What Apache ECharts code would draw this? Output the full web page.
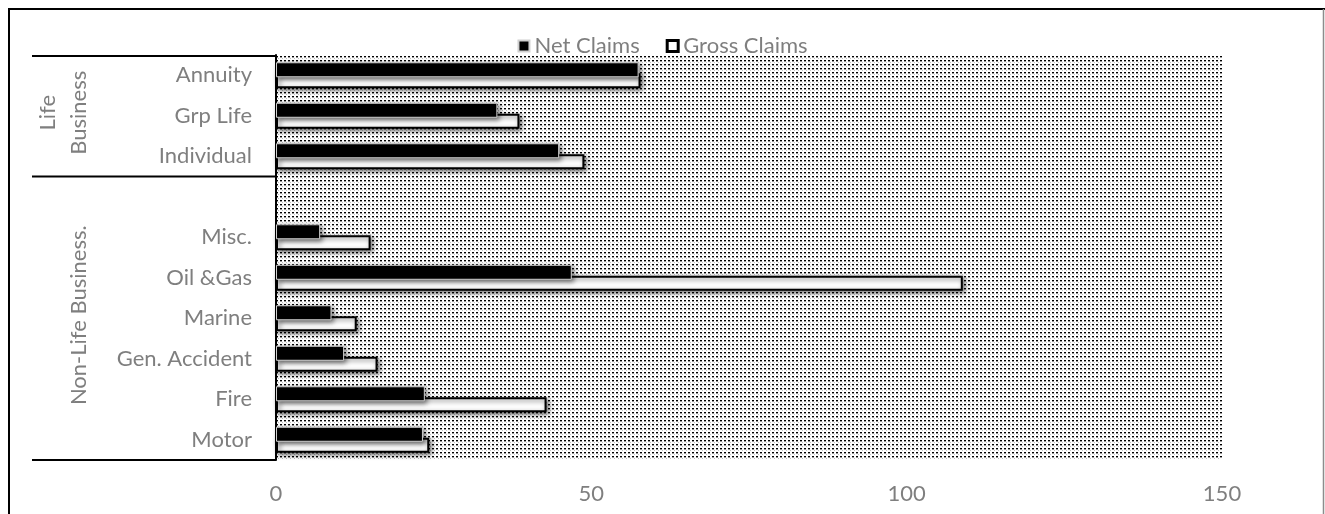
<!DOCTYPE html>
<html>
<head>
<meta charset="utf-8">
<script src="https://cdn.jsdelivr.net/npm/echarts@6/dist/echarts.min.js"></script>
<style>
  html, body { margin: 0; padding: 0; background: #fff; }
  #chart { width: 1325px; height: 514px; }
</style>
</head>
<body>
<div id="chart"></div>
<script>
// Claims by line of business (bottom to top); the blank row separates the two groups
const categories = ['Motor', 'Fire', 'Gen. Accident', 'Marine', 'Oil &Gas', 'Misc.', '', 'Individual', 'Grp Life', 'Annuity'];
const netClaims = [23.3, 23.6, 10.8, 8.8, 46.9, 7.0, null, 44.9, 35.1, 57.5];
const grossClaims = [24.3, 42.9, 16.1, 12.8, 108.9, 15.0, null, 48.9, 38.6, 57.8];
const seriesNames = ['Net Claims', 'Gross Claims'];
const xTicks = [0, 50, 100, 150];

// Group captions on the left, with the category index range each one covers
const groupNames = ['Life\nBusiness', 'Non-Life Business.'];
const groupStart = [7, 0];
const groupEnd = [9, 6];

const FONT = 'Lato, "Open Sans", sans-serif';
const GREY = '#7f7f7f';
const FS = 22;

// Dotted fill used for the plotting area
function dotPattern() {
  const c = document.createElement('canvas');
  c.width = 4; c.height = 4;
  const g = c.getContext('2d');
  g.fillStyle = '#ffffff';
  g.fillRect(0, 0, 4, 4);
  g.fillStyle = '#000000';
  g.fillRect(0, 0, 2, 1);
  g.fillStyle = '#9a9a9a';
  g.fillRect(0, 1, 2, 1);
  g.fillStyle = '#c0c0c0';
  g.fillRect(2, 2, 1, 1);
  return c;
}

const GRID = { left: 276, right: 103, top: 55, bottom: 54 };

const chart = echarts.init(document.getElementById('chart'), null, { renderer: 'canvas' });

const barShadow = {
  shadowBlur: 5,
  shadowColor: 'rgba(0,0,0,0.55)',
  shadowOffsetX: 2,
  shadowOffsetY: 2
};

chart.setOption({
  animation: false,
  backgroundColor: '#ffffff',
  textStyle: { fontFamily: FONT },
  legend: {
    data: [
      { name: seriesNames[0] },
      { name: seriesNames[1], itemStyle: { color: '#ffffff', borderColor: '#000000', borderWidth: 3 } }
    ],
    top: 30,
    left: 'center',
    itemWidth: 11,
    itemHeight: 11,
    itemGap: 26,
    icon: 'rect',
    textStyle: { color: GREY, fontSize: FS, fontFamily: FONT }
  },
  grid: {
    left: GRID.left, right: GRID.right, top: GRID.top, bottom: GRID.bottom,
    show: true,
    borderWidth: 0,
    backgroundColor: { image: dotPattern(), repeat: 'repeat' }
  },
  xAxis: {
    type: 'value',
    min: xTicks[0],
    max: xTicks[xTicks.length - 1],
    interval: xTicks[1] - xTicks[0],
    axisLine: { show: false },
    axisTick: { show: false },
    splitLine: { show: false },
    axisLabel: { color: GREY, fontSize: FS, fontFamily: FONT, margin: 23 }
  },
  yAxis: {
    type: 'category',
    data: categories,
    axisLine: { show: true, lineStyle: { color: '#000', width: 2 } },
    axisTick: { show: false },
    splitLine: { show: false },
    axisLabel: { color: GREY, fontSize: FS, fontFamily: FONT, margin: 24 }
  },
  series: [
    {
      name: seriesNames[0],
      type: 'bar',
      data: netClaims,
      barWidth: 15,
      barGap: '-27%',
      z: 3,
      itemStyle: Object.assign({ color: '#000000', borderColor: '#d0d0d0', borderWidth: 1 }, barShadow)
    },
    {
      name: seriesNames[1],
      type: 'bar',
      data: grossClaims,
      barWidth: 15,
      z: 2,
      itemStyle: Object.assign({ color: '#ffffff', borderColor: '#000000', borderWidth: 2 }, barShadow)
    }
  ]
});

// Frame, group separators and rotated group captions, placed from the axis scale
const half = (a, b) => (a + b) / 2;
const yOf = (i) => chart.convertToPixel({ yAxisIndex: 0 }, i);
const band = yOf(0) - yOf(1);
const yTop = yOf(categories.length - 1) - band / 2;
const yBottom = yOf(0) + band / 2;
const ySplit = half(yOf(groupEnd[1]), yOf(groupStart[0]));
const xAxisLine = GRID.left;

const sepStyle = { stroke: '#000', lineWidth: 2 };
const graphics = [
  { type: 'line', shape: { x1: 9, y1: 8, x2: 9, y2: 514 }, style: { stroke: '#000', lineWidth: 2 }, silent: true },
  { type: 'line', shape: { x1: 8, y1: 9, x2: 1325, y2: 9 }, style: { stroke: '#000', lineWidth: 2 }, silent: true },
  { type: 'line', shape: { x1: 1323.5, y1: 9, x2: 1323.5, y2: 514 }, style: { stroke: '#8c8c8c', lineWidth: 1.5 }, silent: true },
  { type: 'line', shape: { x1: 32, y1: yTop + 1, x2: xAxisLine, y2: yTop + 1 }, style: sepStyle, silent: true },
  { type: 'line', shape: { x1: 32, y1: ySplit, x2: xAxisLine, y2: ySplit }, style: sepStyle, silent: true },
  { type: 'line', shape: { x1: 32, y1: yBottom, x2: xAxisLine, y2: yBottom }, style: sepStyle, silent: true }
];
const captionX = [63, 79];
groupNames.forEach((name, k) => {
  graphics.push({
    type: 'text',
    x: captionX[k],
    y: half(yOf(groupStart[k]), yOf(groupEnd[k])) - 3,
    rotation: Math.PI / 2,
    silent: true,
    style: {
      text: name,
      fill: GREY,
      font: FS + 'px ' + FONT,
      align: 'center',
      verticalAlign: 'middle',
      lineHeight: 31
    }
  });
});
chart.setOption({ graphic: graphics });
</script>
</body>
</html>
